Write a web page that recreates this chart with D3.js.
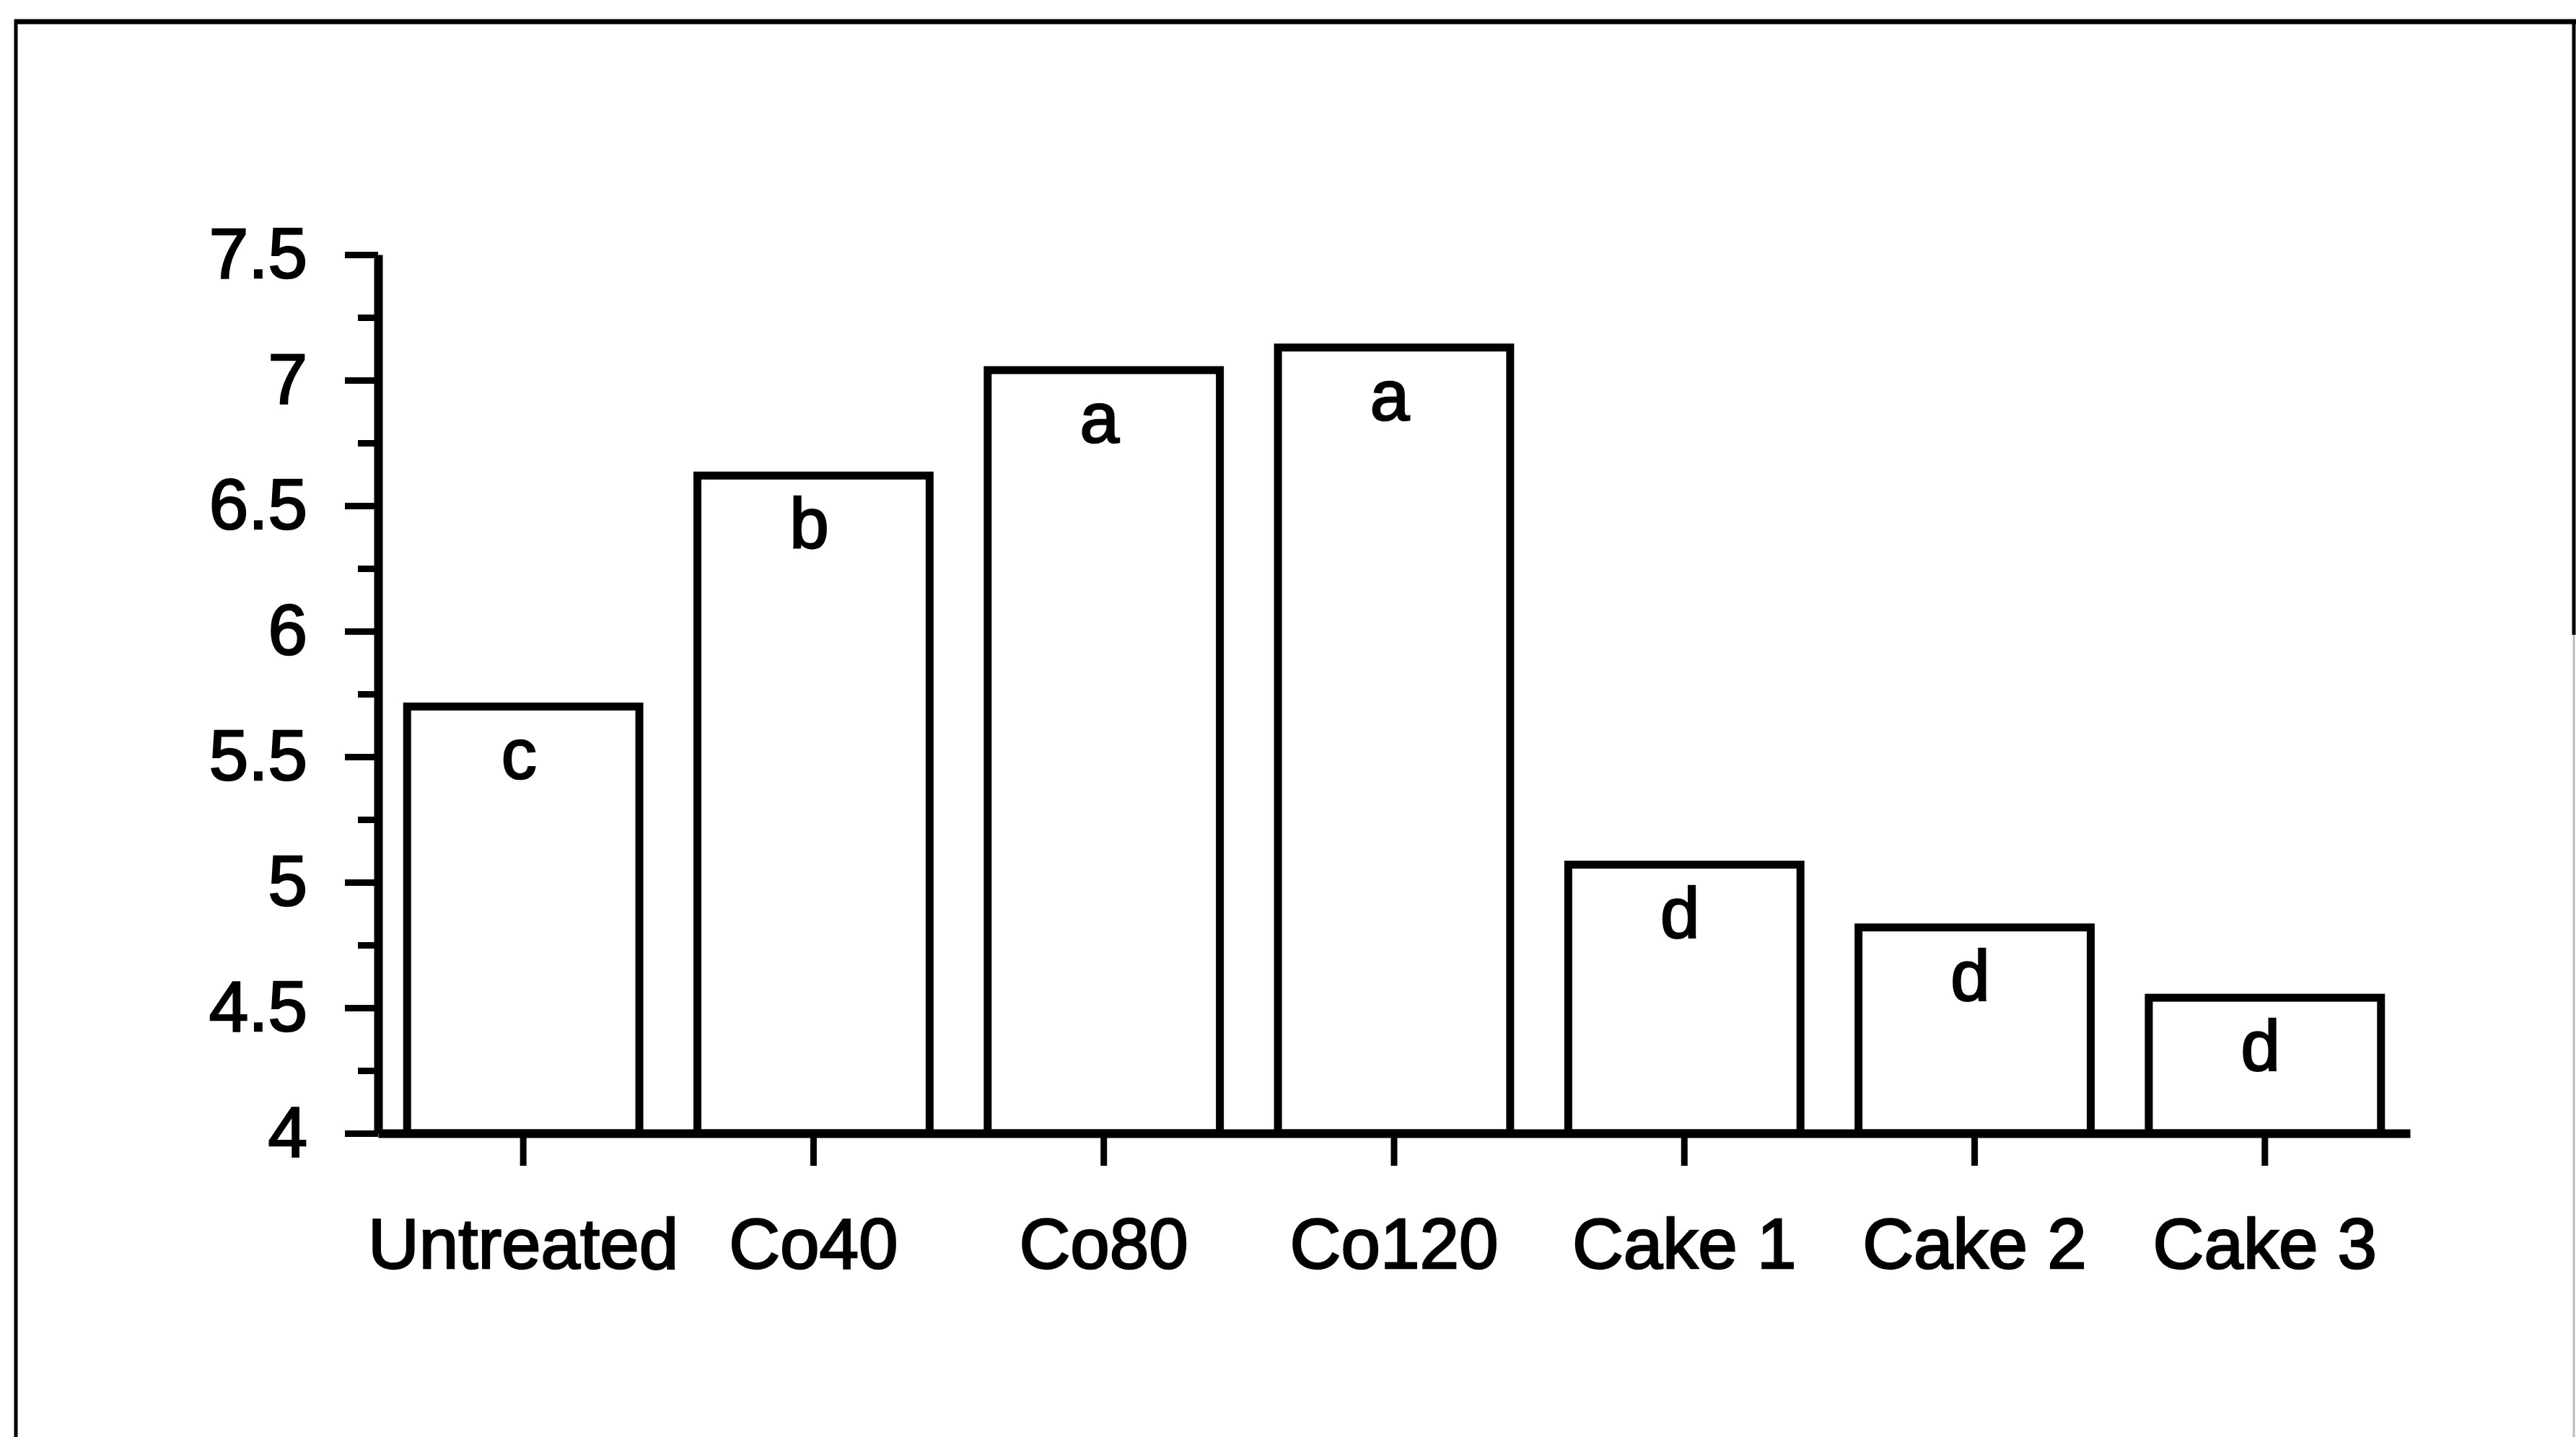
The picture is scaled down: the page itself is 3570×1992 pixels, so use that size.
<!DOCTYPE html>
<html>
<head>
<meta charset="utf-8">
<script src="https://cdn.jsdelivr.net/npm/d3@7"></script>
<style>
  html, body { margin: 0; padding: 0; background: #fff; }
  svg { display: block; }
  text { font-family: "Liberation Sans", Arial, Helvetica, sans-serif; fill: #000; stroke: #000; stroke-width: 2.5px; }
</style>
</head>
<body>
<script>
// Treatments along the x axis
const categories = ["Untreated", "Co40", "Co80", "Co120", "Cake 1", "Cake 2", "Cake 3"];
// Mean value per treatment
const values = [5.70, 6.62, 7.04, 7.13, 5.07, 4.82, 4.54];
// Significance group letters printed inside each bar
const groups = ["c", "b", "a", "a", "d", "d", "d"];
// Labelled y ticks and the unlabelled minor ticks between them
const yTicks = [4, 4.5, 5, 5.5, 6, 6.5, 7, 7.5];
const yMinorTicks = [4.25, 4.75, 5.25, 5.75, 6.25, 6.75, 7.25];

const W = 3570, H = 1992;
const fontSize = 98;

const svg = d3.select("body").append("svg")
  .attr("width", W).attr("height", H);

svg.append("rect").attr("width", W).attr("height", H).attr("fill", "#fff");

// Outer frame
const frame = svg.append("g").attr("fill", "none");
frame.append("line").attr("x1", 20).attr("x2", W).attr("y1", 30).attr("y2", 30)
  .attr("stroke", "#000").attr("stroke-width", 7);
frame.append("line").attr("x1", 22).attr("x2", 22).attr("y1", 27).attr("y2", H)
  .attr("stroke", "#000").attr("stroke-width", 5);
frame.append("line").attr("x1", W - 3).attr("x2", W - 3).attr("y1", 27).attr("y2", 880)
  .attr("stroke", "#000").attr("stroke-width", 5);
frame.append("line").attr("x1", W - 3).attr("x2", W - 3).attr("y1", 880).attr("y2", H)
  .attr("stroke", "#bbb").attr("stroke-width", 3);

// Scales
const x = d3.scaleBand()
  .domain(categories)
  .range([524, 3340])
  .paddingInner(0.2)
  .paddingOuter(0.1);

const y = d3.scaleLinear()
  .domain([4, 7.5])
  .range([1571, 353]);

// Bars
svg.append("g")
  .selectAll("rect")
  .data(values)
  .join("rect")
  .attr("x", (d, i) => x(categories[i]))
  .attr("width", x.bandwidth())
  .attr("y", d => y(d))
  .attr("height", d => y(4) - y(d))
  .attr("fill", "#fff")
  .attr("stroke", "#000")
  .attr("stroke-width", 11);

// Group letters
svg.append("g")
  .selectAll("text")
  .data(values)
  .join("text")
  .attr("x", (d, i) => x(categories[i]) + x.bandwidth() / 2 - 6)
  .attr("y", d => y(d) + 100)
  .attr("text-anchor", "middle")
  .style("font-size", fontSize + "px")
  .text((d, i) => groups[i]);

// Y axis: minor ticks
const yMinor = svg.append("g")
  .attr("transform", "translate(524,0)")
  .call(d3.axisLeft(y).tickValues(yMinorTicks).tickSize(28).tickSizeOuter(0).tickFormat(""));
yMinor.select(".domain").remove();
yMinor.selectAll(".tick line").attr("stroke", "#000").attr("stroke-width", 9);

// Y axis: labelled ticks
const yAxis = svg.append("g")
  .attr("transform", "translate(524,0)")
  .call(d3.axisLeft(y).tickValues(yTicks).tickSize(46).tickSizeOuter(0)
    .tickPadding(52).tickFormat(d => String(d)));
yAxis.select(".domain").attr("stroke", "#000").attr("stroke-width", 12);
yAxis.selectAll(".tick line").attr("stroke", "#000").attr("stroke-width", 9);
yAxis.selectAll(".tick text")
  .attr("fill", "#000")
  .style("font-size", fontSize + "px")
  .style("font-family", "'Liberation Sans', Arial, sans-serif");

// X axis
const xAxis = svg.append("g")
  .attr("transform", "translate(0,1571)")
  .call(d3.axisBottom(x).tickSize(45).tickSizeOuter(0).tickPadding(72));
xAxis.select(".domain").attr("stroke", "#000").attr("stroke-width", 12);
xAxis.selectAll(".tick line").attr("stroke", "#000").attr("stroke-width", 9);
xAxis.selectAll(".tick text")
  .attr("fill", "#000")
  .style("font-size", fontSize + "px")
  .style("font-family", "'Liberation Sans', Arial, sans-serif");
</script>
</body>
</html>
